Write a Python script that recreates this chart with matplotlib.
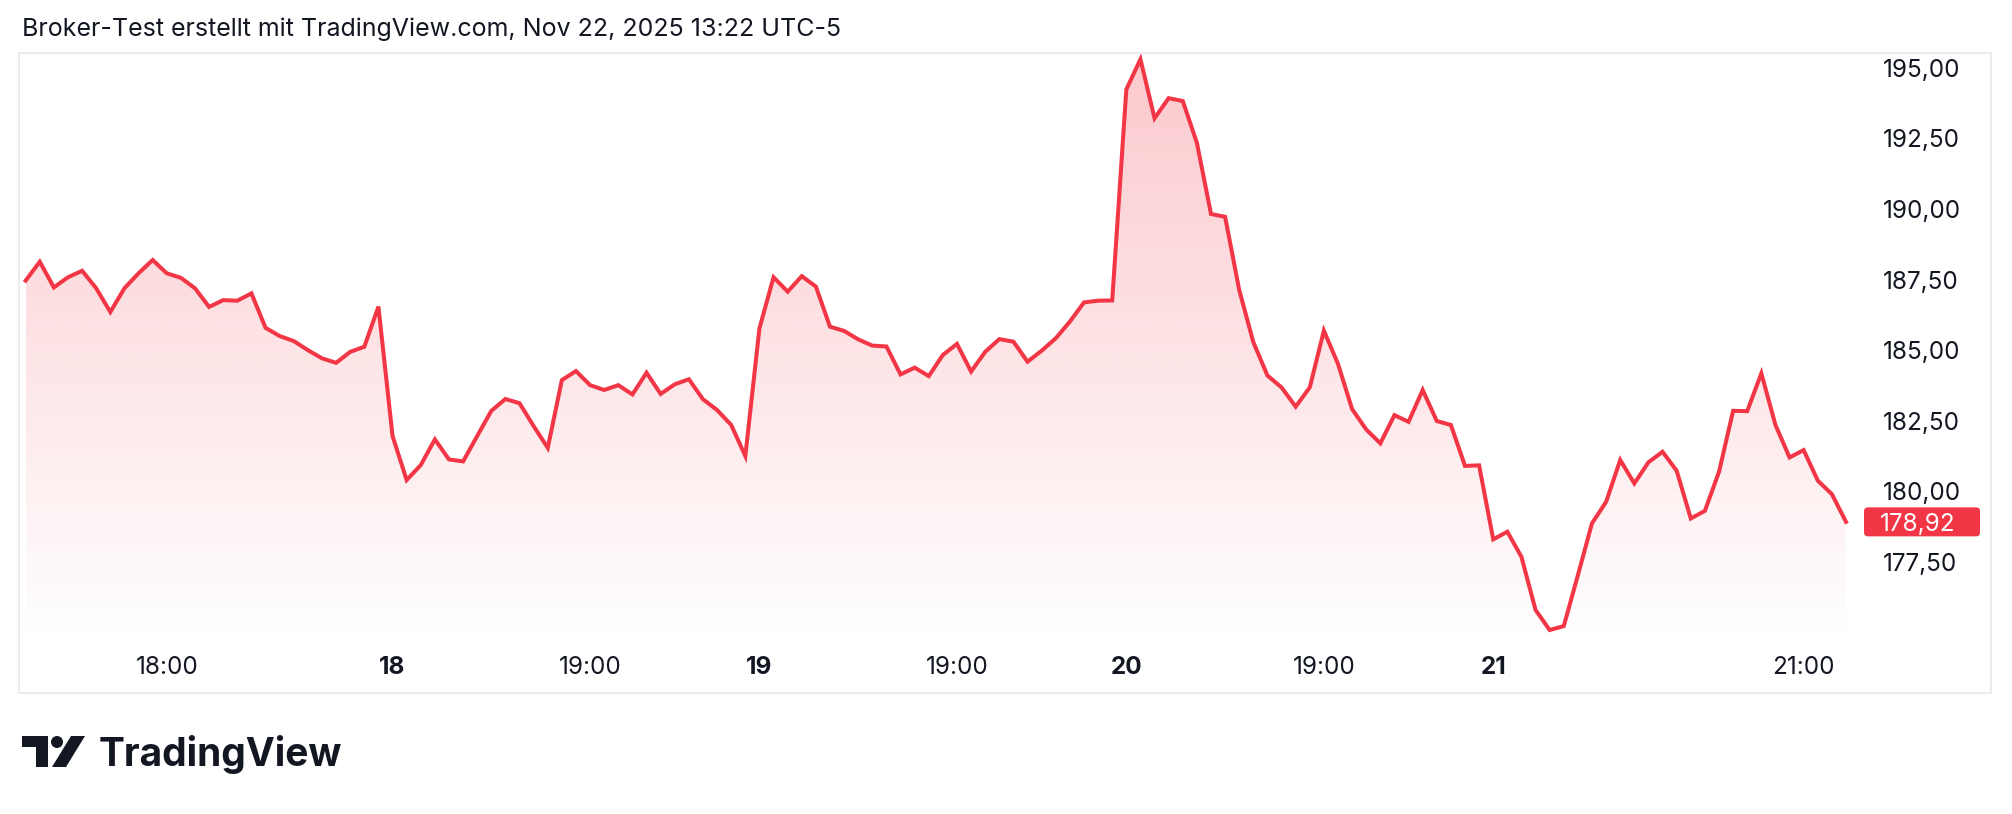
import numpy as np
import matplotlib
matplotlib.use("Agg")
import matplotlib.pyplot as plt
from matplotlib.patches import Rectangle, Circle, Polygon, FancyBboxPatch
from matplotlib.transforms import IdentityTransform
from matplotlib.ticker import FuncFormatter

# 15-minute closes, 17.-21. Nov (regular session, 26 bars per day)
prices = [
    187.46, 188.13, 187.22, 187.58, 187.81, 187.19, 186.35, 187.19, 187.72, 188.19,
    187.72, 187.56, 187.19, 186.53, 186.77, 186.75, 187.01, 185.79, 185.50, 185.32,
    185.00, 184.71, 184.55, 184.94, 185.12, 186.54,
    181.96, 180.40, 180.93, 181.84, 181.13, 181.06, 181.96, 182.85, 183.27, 183.12,
    182.31, 181.54, 183.94, 184.26, 183.76, 183.59, 183.76, 183.43, 184.20, 183.45,
    183.79, 183.97, 183.26, 182.88, 182.35, 181.25,
    185.77, 187.58, 187.07, 187.62, 187.25, 185.83, 185.68, 185.38, 185.16, 185.13,
    184.14, 184.38, 184.08, 184.83, 185.22, 184.24, 184.94, 185.39, 185.30, 184.59,
    184.98, 185.42, 186.01, 186.69, 186.75, 186.76,
    194.23, 195.30, 193.21, 193.92, 193.82, 192.34, 189.82, 189.72, 187.13, 185.28,
    184.10, 183.68, 183.00, 183.68, 185.69, 184.51, 182.91, 182.19, 181.70, 182.70,
    182.46, 183.59, 182.49, 182.35, 180.90, 180.92,
    178.30, 178.57, 177.68, 175.80, 175.09, 175.23, 177.03, 178.87, 179.63, 181.11,
    180.28, 181.03, 181.40, 180.73, 179.04, 179.31, 180.69, 182.85, 182.84, 184.18,
    182.35, 181.20, 181.46, 180.38, 179.90, 178.92,
]

tick_idx = [10, 26, 40, 52, 66, 78, 92, 104, 126]
tick_labels = ["18:00", "18", "19:00", "19", "19:00", "20", "19:00", "21", "21:00"]
day_labels = ["18", "19", "20", "21"]
price_ticks = [177.5, 180.0, 182.5, 185.0, 187.5, 190.0, 192.5, 195.0]

title = "Broker-Test erstellt mit TradingView.com, Nov 22, 2025 13:22 UTC-5"

RED = "#F23645"
TEXT = "#131722"
W, H = 2012, 814

plt.rcParams["font.family"] = ["Inter", "DejaVu Sans"]


def px_box(x0, y0, x1, y1):
    # pixel box (top-left origin) -> figure fraction rect
    return [x0 / W, 1 - y1 / H, (x1 - x0) / W, (y1 - y0) / H]


fig = plt.figure(figsize=(W / 100, H / 100), dpi=100)
fig.patch.set_facecolor("white")

# light frame around the chart pane
fig.patches.append(Rectangle((19 / W, 1 - 693 / H), (1991 - 19) / W, (693 - 53) / H,
                             transform=fig.transFigure, fill=False,
                             edgecolor="#ececee", lw=1.5))

ax = fig.add_axes(px_box(20, 53, 1870, 645))
x = np.arange(len(prices))
y = np.array(prices)

ylo, yhi = 174.56, 195.52

# gradient area under the line
poly = ax.fill_between(x, y, ylo, color="none", lw=0)
grad = np.zeros((256, 1, 4))
grad[..., 0], grad[..., 1], grad[..., 2] = 242 / 255, 54 / 255, 69 / 255
grad[:, 0, 3] = np.linspace(0.0, 0.27, 256)
im = ax.imshow(grad, origin="lower", aspect="auto",
               extent=(x[0], x[-1], ylo, y.max()), zorder=1)
im.set_clip_path(poly.get_paths()[0], transform=ax.transData)
ax.plot(x, y, color=RED, lw=2.9, zorder=3, solid_joinstyle="miter")
ax.set_xlim(-0.40, 130.70)
ax.set_ylim(ylo, yhi)

for s in ax.spines.values():
    s.set_visible(False)
ax.set_facecolor("none")

ax.set_xticks(tick_idx)
ax.set_xticklabels(tick_labels)
for lab in ax.get_xticklabels():
    if lab.get_text() in day_labels:
        lab.set_fontweight("bold")
ax.yaxis.tick_right()
ax.set_yticks(price_ticks)
ax.yaxis.set_major_formatter(FuncFormatter(lambda v, p: f"{v:.2f}".replace(".", ",")))
ax.tick_params(axis="both", length=0, labelsize=17.5, colors=TEXT)
ax.tick_params(axis="x", pad=8)
ax.tick_params(axis="y", pad=9)

# last price badge
last = prices[-1]
ypix = ax.transData.transform((0, last))[1]
badge = FancyBboxPatch((1864, ypix - 14.5), 116, 29,
                       boxstyle="round,pad=0,rounding_size=4",
                       transform=IdentityTransform(), facecolor=RED,
                       edgecolor="none", zorder=5)
fig.patches.append(badge)
fig.text(1880 / W, ypix / H, f"{last:.2f}".replace(".", ","), color="white",
         fontsize=17.5, ha="left", va="center_baseline", zorder=6)

# header
fig.text(22 / W, 1 - 29 / H, title, ha="left", va="center", fontsize=18, color=TEXT)

# TradingView logo
logo = "#131722"
fig.patches.append(Rectangle((22 / W, 1 - 747 / H), 26 / W, 11 / H,
                             transform=fig.transFigure, color=logo, lw=0))
fig.patches.append(Rectangle((36 / W, 1 - 767 / H), 12 / W, 31 / H,
                             transform=fig.transFigure, color=logo, lw=0))
fig.patches.append(Circle((57, H - 742), 6, transform=IdentityTransform(), color=logo, lw=0))
fig.patches.append(Polygon([(52, H - 767), (66, H - 767), (85, H - 736), (71, H - 736)],
                           closed=True, transform=IdentityTransform(), color=logo, lw=0))
fig.text(99 / W, 1 - 766 / H, "TradingView", ha="left", va="baseline",
         fontsize=28, fontweight="bold", color=logo)

fig.savefig("out.png", dpi=100)
